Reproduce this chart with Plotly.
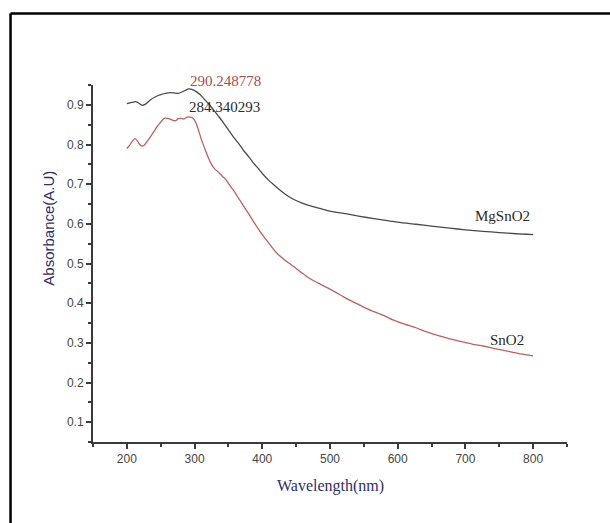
import plotly.graph_objects as go

# UV-Vis absorbance spectra
mg_wavelength = [200, 207, 213, 218, 222, 227, 235, 243, 250, 257, 264, 270, 276, 282, 287, 291, 296, 302, 308, 314, 321,
                 328, 336, 343, 350, 357, 365, 372, 380, 387, 395, 402, 410, 418, 426, 436, 446, 458, 470, 482, 495,
                 510, 525, 544, 565, 585, 605, 627, 650, 677, 700, 726, 750, 775, 800]
mg_absorb = [0.903, 0.906, 0.908, 0.904, 0.899, 0.901, 0.913, 0.921, 0.926, 0.929, 0.931, 0.930, 0.929, 0.933, 0.937, 0.940,
             0.939, 0.934, 0.926, 0.915, 0.902, 0.887, 0.870, 0.854, 0.837, 0.820, 0.803, 0.786, 0.769, 0.753, 0.738,
             0.723, 0.709, 0.697, 0.685, 0.672, 0.662, 0.653, 0.646, 0.640, 0.634, 0.629, 0.625, 0.619, 0.613, 0.608,
             0.603, 0.599, 0.594, 0.589, 0.585, 0.581, 0.578, 0.575, 0.573]

sn_wavelength = [200, 204, 208, 212, 216, 219, 222, 226, 230, 235, 240, 245, 250, 255, 260, 264, 268, 272, 276, 280, 284,
                 289, 294, 298, 302, 306, 310, 315, 320, 325, 330, 336, 341, 346, 350, 355, 360, 366, 372, 380, 388,
                 397, 408, 421, 433, 446, 458, 470, 482, 495, 508, 520, 532, 544, 560, 578, 593, 610, 627, 642, 660,
                 677, 692, 710, 726, 745, 765, 782, 800]
sn_absorb = [0.790, 0.798, 0.808, 0.815, 0.808, 0.800, 0.796, 0.799, 0.808, 0.820, 0.833, 0.846, 0.856, 0.866, 0.866,
             0.864, 0.861, 0.860, 0.865, 0.866, 0.864, 0.869, 0.869, 0.866, 0.854, 0.835, 0.813, 0.790, 0.768, 0.750,
             0.738, 0.729, 0.720, 0.712, 0.702, 0.690, 0.678, 0.662, 0.646, 0.625, 0.603, 0.580, 0.555, 0.527, 0.509,
             0.493, 0.477, 0.462, 0.451, 0.440, 0.428, 0.416, 0.405, 0.395, 0.382, 0.370, 0.358, 0.347, 0.338, 0.328,
             0.318, 0.310, 0.304, 0.297, 0.292, 0.285, 0.278, 0.272, 0.267]

peak_labels = ["290.248778", "284.340293"]
peak_positions = [(290.25, 1.012), (289.0, 0.894)]
series_names = ["MgSnO2", "SnO2"]
series_label_pos = [(755, 0.620), (762, 0.308)]

x_ticks = [200, 300, 400, 500, 600, 700, 800]
y_ticks = [0.1, 0.2, 0.3, 0.4, 0.5, 0.6, 0.7, 0.8, 0.9]

BLACK_LINE = "#4a4a4a"
RED_LINE = "#c0605e"
NAVY = "#2e2e6e"

fig = go.Figure()
fig.add_trace(go.Scatter(x=mg_wavelength, y=mg_absorb, mode="lines", name=series_names[0],
                         line=dict(color=BLACK_LINE, width=1.3, shape="spline", smoothing=0.6)))
fig.add_trace(go.Scatter(x=sn_wavelength, y=sn_absorb, mode="lines", name=series_names[1],
                         line=dict(color=RED_LINE, width=1.3, shape="spline", smoothing=0.6)))

serif = "Liberation Serif"
sans = "Liberation Sans"

annotations = [
    dict(x=peak_positions[0][0], yref="paper", y=peak_positions[0][1], text=peak_labels[0], showarrow=False,
         xanchor="left", yanchor="middle", font=dict(family=serif, size=15, color="#b24a4a")),
    dict(x=peak_positions[1][0], y=peak_positions[1][1], text=peak_labels[1], showarrow=False,
         xanchor="left", yanchor="middle", font=dict(family=serif, size=15, color="#2a2a2a")),
    dict(x=series_label_pos[0][0], y=series_label_pos[0][1], text=series_names[0], showarrow=False,
         xanchor="center", yanchor="middle", font=dict(family=serif, size=15, color="#2a2a2a")),
    dict(x=series_label_pos[1][0], y=series_label_pos[1][1], text=series_names[1], showarrow=False,
         xanchor="center", yanchor="middle", font=dict(family=serif, size=15, color="#2a2a2a")),
    dict(xref="paper", yref="paper", x=0.5, y=-0.122, text="Wavelength(nm)", showarrow=False,
         xanchor="center", yanchor="middle", font=dict(family=serif, size=16, color=NAVY)),
    dict(xref="paper", yref="paper", x=-0.093, y=0.6, text="Absorbance(A.U)", showarrow=False,
         textangle=-90, xanchor="center", yanchor="middle", font=dict(family=sans, size=15, color=NAVY)),
]

# outer frame: top and left edges
shapes = [
    dict(type="line", xref="paper", yref="paper", x0=-0.174, x1=1.1, y0=1.2005, y1=1.2005,
         line=dict(color="black", width=2.5)),
    dict(type="line", xref="paper", yref="paper", x0=-0.174, x1=-0.174, y0=1.2005, y1=-0.25,
         line=dict(color="black", width=2.5)),
]

axis_common = dict(showline=True, linecolor="#3a3a3a", linewidth=2, ticks="outside", ticklen=5,
                   tickwidth=1.5, tickcolor="#3a3a3a", showgrid=False, zeroline=False,
                   tickfont=dict(family=sans, size=12, color="#444444"))

fig.update_layout(
    width=610, height=523,
    margin=dict(l=92.5, r=42.5, t=85, b=81.3),
    paper_bgcolor="white", plot_bgcolor="white",
    showlegend=False,
    xaxis=dict(range=[150, 850], tickvals=x_ticks,
               minor=dict(ticks="outside", dtick=50, tick0=150, ticklen=3, tickcolor="#3a3a3a", tickwidth=1.5),
               **axis_common),
    yaxis=dict(range=[0.05, 0.95], tickvals=y_ticks, tickformat=".1f",
               minor=dict(ticks="outside", dtick=0.05, tick0=0.05, ticklen=3, tickcolor="#3a3a3a", tickwidth=1.5),
               **axis_common),
    annotations=annotations,
    shapes=shapes,
)

fig.write_html("out.html")
